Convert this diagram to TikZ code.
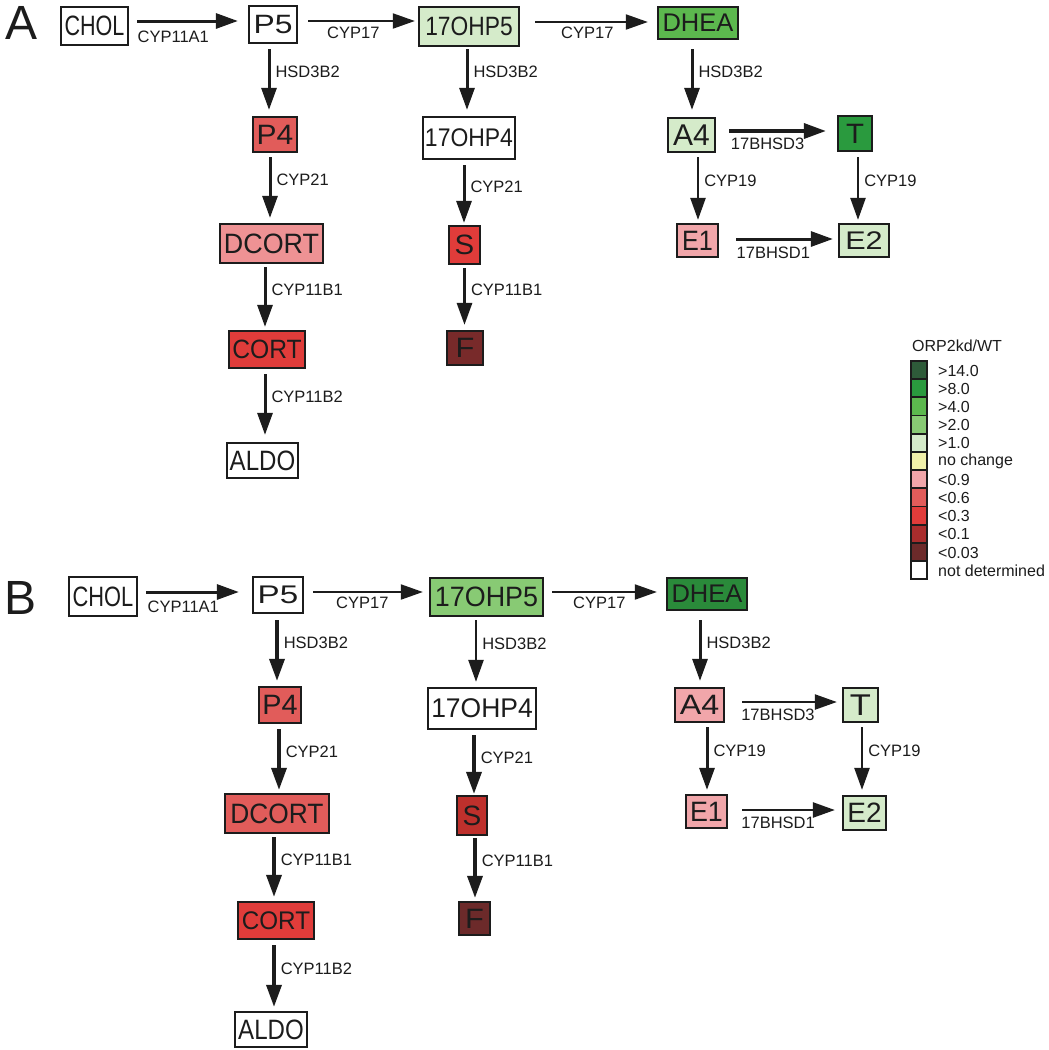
\documentclass[tikz,border=0pt]{standalone}
\usepackage{fontspec}
\setmainfont{Liberation Sans}
\usepackage{graphicx}
\usetikzlibrary{arrows.meta,calc}
\definecolor{g14}{HTML}{2E5B39}
\definecolor{g8}{HTML}{2A9A3E}
\definecolor{g8b}{HTML}{2A8A3A}
\definecolor{g4}{HTML}{5CB84E}
\definecolor{g2}{HTML}{88CA74}
\definecolor{g1}{HTML}{D5EBCA}
\definecolor{nc}{HTML}{F0F0AA}
\definecolor{r09}{HTML}{F1A6AA}
\definecolor{r09d}{HTML}{EE9294}
\definecolor{r06}{HTML}{E15C5A}
\definecolor{r03}{HTML}{E03C3A}
\definecolor{r01}{HTML}{A92D2D}
\definecolor{r01b}{HTML}{BE302C}
\definecolor{r003}{HTML}{6C2A2A}
\definecolor{r003a}{HTML}{782A2A}
\definecolor{ink}{HTML}{1C1C1C}
\newcommand\tx[3]{\scalebox{#2}[1]{\fontsize{#1}{#1}\selectfont #3}}
\newcommand\HA[9]{\draw[conn=#1] ($(#2.east)+(#5,#4)$) -- ($(#3.west|-#2.east)+(-#6,#4)$) node[lbl,anchor=west,at start,xshift=#8pt,yshift=-#9pt]{#7};}
\newcommand\VA[7]{\draw[conn=#1] ($(#2.south)+(#4,#5)$) -- ($(#2.south|-#3.north)+(#4,-#6)$) node[lbl,anchor=west,pos=0.38,xshift=5pt]{#7};}
\begin{document}
\begin{tikzpicture}[x=1pt,y=-1pt,
  box/.style={draw=ink, line width=2.3pt, inner sep=0pt, text=ink},
  sz/.style 2 args={minimum width=#1pt, minimum height=#2pt},
  lbl/.style={font=\fontsize{16.5}{18}\selectfont, inner sep=0pt, text=ink},
  conn/.style={draw=ink, line width=#1pt, -{Triangle[length=22pt,width=15pt]}},
  swatch/.style={draw=ink, line width=1.8pt, minimum width=16pt, minimum height=18.2pt, inner sep=0pt},
  lgl/.style={font=\fontsize{16}{18}\selectfont, inner sep=0pt, text=ink, anchor=west}]
\useasboundingbox (0,0) rectangle (1049,1050);
\fill[white] (0,0) rectangle (1049,1050);

% panel letters
\node[inner sep=0pt,text=ink,font=\fontsize{48}{48}\selectfont] (labA) at (22,23) {A};
\node[inner sep=0pt,text=ink,font=\fontsize{48}{48}\selectfont] (labB) at (21,598) {B};

% ---------- Panel A ----------
\node[box,fill=white,sz={67}{38}] (CHOLa) at (94.5,26) {\tx{28}{0.77}{CHOL}};
\node[box,fill=white,sz={48}{37}] (P5a) at (273,24.5) {\tx{26.5}{1.2}{P5}};
\node[box,fill=g1,sz={100}{39}] (OHP5a) at (469,26.5) {\tx{26.5}{0.86}{17OHP5}};
\node[box,fill=g4,sz={80}{32}] (DHEAa) at (698,23) {\tx{25.5}{1.0}{DHEA}};
\node[box,fill=r06,sz={44}{35}] (P4a) at (275,134.5) {\tx{28}{1.07}{P4}};
\node[box,fill=white,sz={92}{42}] (OHP4a) at (469,138) {\tx{25.5}{0.9}{17OHP4}};
\node[box,fill=g1,sz={47}{34}] (A4a) at (691.5,135) {\tx{30}{1.0}{A4}};
\node[box,fill=g8,sz={34}{35}] (Ta) at (855,133.5) {\tx{28}{1.05}{T}};
\node[box,fill=r09d,sz={103}{39}] (DCORTa) at (271.5,243.5) {\tx{28}{0.96}{DCORT}};
\node[box,fill=r03,sz={31}{38}] (Sa) at (464.5,245) {\tx{28}{1.05}{S}};
\node[box,fill=r09,sz={41}{33}] (E1a) at (697.5,240.5) {\tx{28}{0.9}{E1}};
\node[box,fill=g1,sz={50}{33}] (E2a) at (864,240.5) {\tx{25.5}{1.2}{E2}};
\node[box,fill=r03,sz={76}{37}] (CORTa) at (267,349.5) {\tx{26.5}{0.93}{CORT}};
\node[box,fill=r003a,sz={36}{34}] (Fa) at (465,348) {\tx{28}{1.1}{F}};
\node[box,fill=white,sz={71}{35}] (ALDOa) at (262.5,460.5) {\tx{28}{0.86}{ALDO}};

\HA{3}{CHOLa}{P5a}{-5}{8}{10}{CYP11A1}{-1}{16}
\HA{2}{P5a}{OHP5a}{-3.5}{10}{3}{CYP17}{18}{12}
\HA{2}{OHP5a}{DHEAa}{-4.5}{15}{9}{CYP17}{25}{11}
\HA{3.5}{A4a}{Ta}{-4}{13}{11}{17BHSD3}{0}{13}
\HA{3}{E1a}{E2a}{-1.5}{17}{5}{17BHSD1}{-1}{14}

\VA{3}{P5a}{P4a}{-4}{5}{6}{HSD3B2}
\VA{3}{P4a}{DCORTa}{-5}{4}{5}{CYP21}
\VA{3}{DCORTa}{CORTa}{-6.5}{3}{3}{CYP11B1}
\VA{3}{CORTa}{ALDOa}{-2}{5}{7}{CYP11B2}
\VA{3}{OHP5a}{OHP4a}{-2}{2}{6}{HSD3B2}
\VA{3}{OHP4a}{Sa}{-5}{5}{2}{CYP21}
\VA{3}{Sa}{Fa}{0}{3}{5}{CYP11B1}
\VA{3}{DHEAa}{A4a}{-6}{9}{7}{HSD3B2}
\VA{2.5}{A4a}{E1a}{6.5}{4}{3}{CYP19}
\VA{2.5}{Ta}{E2a}{3}{5}{3}{CYP19}

% ---------- Panel B ----------
\node[box,fill=white,sz={68}{39}] (CHOLb) at (103,596.5) {\tx{28}{0.78}{CHOL}};
\node[box,fill=white,sz={50}{36}] (P5b) at (278,595) {\tx{25.5}{1.3}{P5}};
\node[box,fill=g2,sz={113}{38}] (OHP5b) at (486.5,597) {\tx{28}{0.96}{17OHP5}};
\node[box,fill=g8b,sz={80}{32}] (DHEAb) at (707,594) {\tx{25.5}{1.0}{DHEA}};
\node[box,fill=r06,sz={42}{36}] (P4b) at (280,705) {\tx{28}{1.03}{P4}};
\node[box,fill=white,sz={108}{41}] (OHP4b) at (482,708.5) {\tx{27}{0.98}{17OHP4}};
\node[box,fill=r09,sz={49}{34}] (A4b) at (699.5,705) {\tx{28}{1.15}{A4}};
\node[box,fill=g1,sz={35}{34}] (Tb) at (860.5,705) {\tx{30}{1.15}{T}};
\node[box,fill=r06,sz={104}{39}] (DCORTb) at (277,813.5) {\tx{28}{0.94}{DCORT}};
\node[box,fill=r01b,sz={30}{39}] (Sb) at (472,815.5) {\tx{28}{1.0}{S}};
\node[box,fill=r09,sz={41}{33}] (E1b) at (706.5,811.5) {\tx{28}{0.96}{E1}};
\node[box,fill=g1,sz={43}{34}] (E2b) at (864.5,813) {\tx{28}{1.0}{E2}};
\node[box,fill=r03,sz={76}{37}] (CORTb) at (276,920.5) {\tx{25.5}{0.95}{CORT}};
\node[box,fill=r003,sz={31}{33}] (Fb) at (474.5,918.5) {\tx{28}{1.1}{F}};
\node[box,fill=white,sz={72}{35}] (ALDOb) at (271,1029.5) {\tx{28}{0.86}{ALDO}};

\HA{3}{CHOLb}{P5b}{-4.5}{8}{13}{CYP11A1}{0}{15}
\HA{2}{P5b}{OHP5b}{-3}{9}{6}{CYP17}{22}{11}
\HA{2}{OHP5b}{DHEAb}{-5}{8}{9}{CYP17}{20}{11}
\HA{2.2}{A4b}{Tb}{-3}{17}{5}{17BHSD3}{-2}{13}
\HA{2.5}{E1b}{E2b}{-1.5}{14}{7}{17BHSD1}{-2}{13}

\VA{3.5}{P5b}{P4b}{-1}{6}{5}{HSD3B2}
\VA{3.5}{P4b}{DCORTb}{-1}{5}{3}{CYP21}
\VA{3.5}{DCORTb}{CORTb}{-3}{3}{4}{CYP11B1}
\VA{3.5}{CORTb}{ALDOb}{-2}{5}{4}{CYP11B2}
\VA{2.5}{OHP5b}{OHP4b}{-10.5}{3}{5}{HSD3B2}
\VA{3.5}{OHP4b}{Sb}{-8}{5}{1}{CYP21}
\VA{3.5}{Sb}{Fb}{3}{2}{3}{CYP11B1}
\VA{3}{DHEAb}{A4b}{-7}{9}{6}{HSD3B2}
\VA{3}{A4b}{E1b}{7.5}{4}{4}{CYP19}
\VA{2.5}{Tb}{E2b}{1.5}{4}{5}{CYP19}

% ---------- Legend ----------
\node[lgl] (lgtitle) at (912,346) {ORP2kd/WT};
\foreach \c/\t [count=\i from 0] in {g14/{>14.0},g8/{>8.0},g4/{>4.0},g2/{>2.0},g1/{>1.0},nc/{no change},r09/{<0.9},r06/{<0.6},r03/{<0.3},r01/{<0.1},r003/{<0.03},white/{not determined}}{
  \node[swatch,fill=\c] (sw\i) at (919,{370+18.2*\i}) {};
  \node[lgl] (lg\i) at (938,{370.5+18.2*\i}) {\t};
}
\end{tikzpicture}
\end{document}
